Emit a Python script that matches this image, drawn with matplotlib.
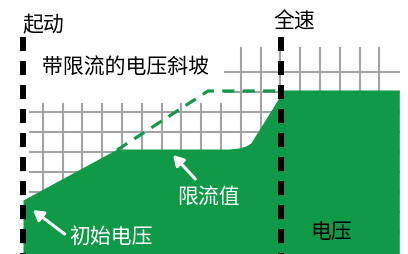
import matplotlib
matplotlib.use("Agg")
import matplotlib.pyplot as plt

plt.rcParams['font.family'] = ['Noto Sans CJK SC', 'DejaVu Sans']

GREEN = '#109a47'
GRID = '#a3a3a3'

# time axis: one grid step = 1 unit; start at t=0, full speed at t=13
t_start = 0.0
t_full = 13.03

# output voltage (green area)
volt_t = [0.0, 4.75, 10.4, 10.9, 11.25, 11.5, 13.17, 19.0]
volt_v = [2.6, 5.15, 5.15, 5.2, 5.3, 5.45, 8.1, 8.1]

# voltage ramp without current limit (dashed)
ramp_t = [4.75, 9.34, 13.03]
ramp_v = [5.1, 8.05, 8.05]

# grid
grid_x = list(range(1, 19))
grid_y_top = 10.2      # right part, above the caption
grid_y_top_left = 7.4  # left part, below the caption
grid_rows = [9, 8, 7, 6, 5, 4, 3, 2, 1]
grid_left_split = 10.2


def main():
    fig = plt.figure(figsize=(4.08, 2.54), dpi=100)
    ax = fig.add_axes([0, 0, 1, 1])
    ax.set_xlim(-1.16, 19.44)
    ax.set_ylim(-0.1, 12.6)
    ax.axis('off')

    # grid lines
    for gx in grid_x:
        top = grid_y_top if gx > grid_left_split else grid_y_top_left
        ax.plot([gx, gx], [-0.1, top], color=GRID, lw=1.5, zorder=1)
    for gy in grid_rows:
        left = grid_left_split if gy >= 8 else 0.35
        ax.plot([left, 19.0], [gy, gy], color=GRID, lw=1.5, zorder=1)

    # voltage area
    ax.fill_between(volt_t, volt_v, -0.1, color=GREEN, lw=0, zorder=2)

    # ramp without limit
    ax.plot(ramp_t, ramp_v, color=GREEN, lw=2.3, dashes=(3.8, 2.6),
            zorder=3)

    # start / full speed markers
    for tx in (t_start, t_full):
        ax.plot([tx, tx], [10.75, -0.1], color='black', lw=4.3,
                dashes=(2.35, 1.67), solid_capstyle='butt',
                dash_capstyle='butt', zorder=4)

    fs = 15
    ax.text(-0.05, 11.35, '起动', fontsize=fs, ha='left', va='center')
    ax.text(13.7, 11.5, '全速', fontsize=fs, ha='center', va='center')
    ax.text(0.96, 9.2, '带限流的电压斜坡', fontsize=fs, ha='left',
            va='center')
    ax.text(15.58, 1.0, '电压', fontsize=fs, ha='center', va='center')
    ax.text(9.34, 2.7, '限流值', fontsize=fs, ha='center', va='center',
            color='white')
    ax.text(4.44, 0.75, '初始电压', fontsize=fs, ha='center',
            va='center', color='white')

    arrow = dict(arrowstyle='-|>,head_length=0.6,head_width=0.35',
                 color='white', lw=2.2, shrinkA=0, shrinkB=0)
    ax.annotate('', xy=(0.5, 2.1), xytext=(2.1, 0.9), arrowprops=arrow,
                zorder=5)
    ax.annotate('', xy=(7.58, 4.85), xytext=(8.7, 3.65), arrowprops=arrow,
                zorder=5)

    fig.savefig('out.png', dpi=100)


main()
